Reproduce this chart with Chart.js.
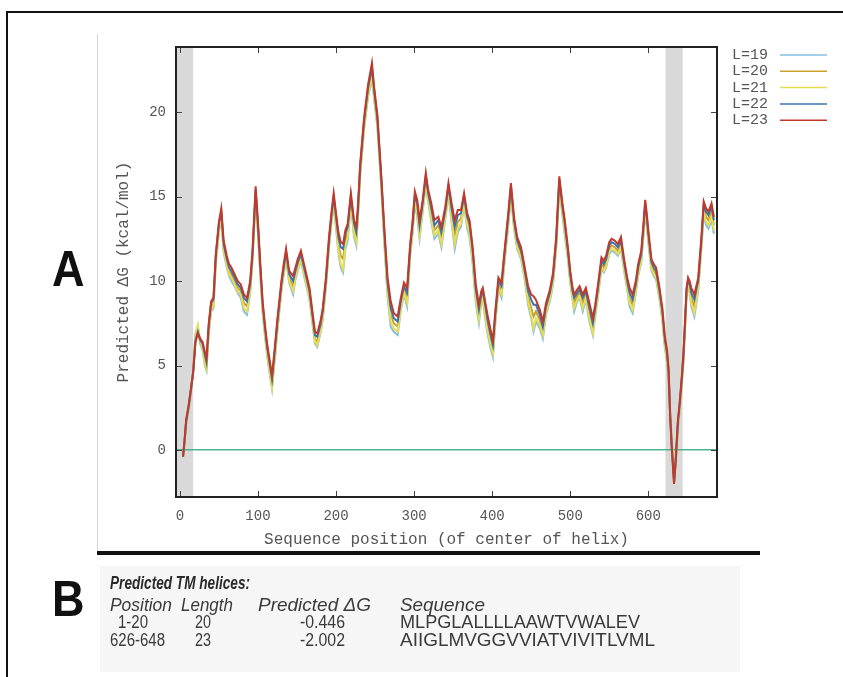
<!DOCTYPE html>
<html>
<head>
<meta charset="utf-8">
<script src="https://cdn.jsdelivr.net/npm/chart.js@4.4.0/dist/chart.umd.min.js"></script>
<style>
  html, body { margin: 0; padding: 0; background: #fff; }
  #wrap { position: relative; width: 843px; height: 677px; overflow: hidden; }
  #plot { position: absolute; left: 0; top: 0; }
  .frame-l { position: absolute; left: 6px; top: 11px; width: 2px; height: 670px; background: #111; }
  .frame-t { position: absolute; left: 6px; top: 11px; width: 840px; height: 2px; background: #111; }
  .sep-v { position: absolute; left: 97px; top: 34px; width: 1px; height: 518px; background: #d8d8d8; }
  .sep-h { position: absolute; left: 97px; top: 551px; width: 663px; height: 4px; background: #111; }
  .tbl { position: absolute; left: 100px; top: 566px; width: 640px; height: 106px; background: #f6f6f6; }
  .panel { position: absolute; font-family: 'Liberation Sans', Arial, sans-serif; font-weight: bold;
           font-size: 50px; line-height: 1; color: #111; transform-origin: left top; transform: scaleX(0.9); }
  .t { position: absolute; font-family: 'Liberation Sans', Arial, sans-serif; font-size: 18px; line-height: 18px;
       color: #3a3a3a; white-space: nowrap; transform-origin: left center; }
  .i { font-style: italic; }
  .h { font-style: italic; font-weight: bold; color: #2a2a2a; }
</style>
</head>
<body>
<div id="wrap">
  <div class="frame-l"></div>
  <div class="frame-t"></div>
  <div class="sep-v"></div>
  <div class="tbl"></div>
  <canvas id="plot" width="843" height="677"></canvas>
  <div class="sep-h"></div>
  <div class="panel" style="left:52px; top:244px;">A</div>
  <div class="panel" style="left:52px; top:574px;">B</div>

  <div class="t h" style="left:110px; top:574px;" data-w="140">Predicted TM helices:</div>
  <div class="t i" style="left:110px; top:596px;" data-w="62">Position</div>
  <div class="t i" style="left:181px; top:596px;" data-w="52">Length</div>
  <div class="t i" style="left:258px; top:596px;" data-w="113">Predicted ΔG</div>
  <div class="t i" style="left:400px; top:596px;" data-w="85">Sequence</div>
  <div class="t" style="left:118px; top:613px;" data-w="30">1-20</div>
  <div class="t" style="left:195px; top:613px;" data-w="16">20</div>
  <div class="t" style="left:300px; top:613px;" data-w="45">-0.446</div>
  <div class="t" style="left:400px; top:613px;" data-w="240">MLPGLALLLLAAWTVWALEV</div>
  <div class="t" style="left:110px; top:631px;" data-w="55">626-648</div>
  <div class="t" style="left:195px; top:631px;" data-w="16">23</div>
  <div class="t" style="left:300px; top:631px;" data-w="45">-2.002</div>
  <div class="t" style="left:400px; top:631px;" data-w="255">AIIGLMVGGVVIATVIVITLVML</div>
</div>
<script>
// sequence position of helix centre
const positions = [
  4,6,8,11,14,17,20,23,26,29, 32,34,37,40,43,46,50,53,56,60,
  63,66,70,74,78,82,86,90,93,97, 100,103,106,109,112,115,118,121,125,130,
  133,136,140,145,148,151,155,159,163,166, 170,173,176,180,183,187,191,194,197,200,
  203,206,209,212,215,219,223,226,228,231, 236,241,246,249,253,258,262,266,270,274,
  279,283,287,291,295,298,301,304,307,311, 315,318,322,326,331,335,340,344,348,352,
  356,360,364,368,371,375,379,383,386,388, 391,394,398,401,404,408,412,415,418,421,
  424,428,432,437,441,446,450,453,456,461, 465,469,474,478,482,486,490,493,497,500,
  503,505,509,512,516,520,524,529,532,535, 540,543,546,550,553,557,561,565,569,573,
  576,580,584,587,591,594,596,598,600,604, 607,610,614,618,621,624,626,628,630,633,
  635,638,640,643,645,647,649,651,653,655, 659,662,664,668,671,674,677,681,684
];

// predicted dG (kcal/mol) for each window length
const dgL19 = [
  -0.4,0.4,1.5,2.3,3.3,4.8,6.9,7.3,6.3,5.9, 5.0,4.7,6.9,8.2,8.4,11.0,12.9,13.7,11.7,10.8,
  10.3,10.0,9.7,9.3,9.0,8.2,8.0,9.3,11.2,14.9, 12.8,10.3,8.1,6.7,5.5,4.5,3.6,5.1,7.1,9.4,
  10.4,11.3,9.9,9.2,10.1,10.6,11.2,10.3,9.5,8.9, 7.4,6.3,6.1,6.9,7.7,9.6,12.0,13.4,14.6,13.1,
  11.7,10.8,10.5,11.9,12.4,14.6,12.6,12.1,13.7,16.3, 19.0,20.9,21.9,20.7,19.1,15.5,12.1,9.1,7.3,7.0,
  6.8,8.3,9.2,8.5,11.5,12.8,14.6,13.8,12.5,14.1, 15.7,14.7,13.5,12.5,12.8,12.0,13.7,15.1,13.5,11.9,
  12.9,13.2,14.5,13.1,12.6,11.0,8.7,7.5,8.7,8.9, 7.8,6.9,6.0,5.5,7.5,9.5,9.0,10.7,12.1,13.5,
  15.1,13.1,11.9,11.3,10.3,8.6,7.8,7.0,7.6,7.2, 6.6,8.0,8.8,9.8,11.9,15.5,13.9,12.7,11.3,9.9,
  8.9,8.2,8.8,9.0,8.2,8.9,7.7,6.8,7.9,8.9, 10.7,10.5,10.8,11.6,11.8,11.7,11.5,11.9,10.6,9.5,
  8.5,8.1,9.3,10.3,11.1,12.8,14.1,13.3,12.3,10.6, 10.3,10.1,9.0,7.7,6.1,5.2,4.2,2.3,0.6,-1.5,
  -1.0,1.3,2.2,3.9,5.2,7.1,9.1,9.7,9.3,8.5, 7.9,8.8,9.5,11.9,14.0,13.3,13.1,13.6,12.8
];
const dgL20 = [
  -0.4,0.5,1.6,2.5,3.5,4.7,6.6,7.1,6.4,6.1, 5.4,5.0,7.2,8.5,8.7,11.3,13.2,13.9,12.0,11.1,
  10.6,10.4,10.0,9.6,9.4,8.7,8.5,9.6,11.4,15.2, 13.1,10.6,8.4,7.0,5.8,4.8,3.9,5.4,7.4,9.6,
  10.7,11.6,10.2,9.7,10.4,10.9,11.4,10.6,9.8,9.2, 7.7,6.6,6.4,7.2,8.0,9.8,12.2,13.6,14.8,13.5,
  12.2,11.5,11.3,12.4,12.9,14.8,13.1,12.6,14.0,16.6, 19.3,21.2,22.3,21.0,19.4,15.8,12.5,9.6,8.0,7.5,
  7.3,8.6,9.5,9.0,11.8,13.1,14.9,14.3,13.0,14.4, 16.0,15.0,14.0,13.0,13.3,12.6,14.0,15.4,14.0,12.7,
  13.5,13.7,14.8,13.6,13.1,11.5,9.2,8.0,9.0,9.2, 8.3,7.4,6.5,5.9,7.8,9.8,9.4,11.0,12.4,13.8,
  15.4,13.4,12.2,11.6,10.6,9.1,8.4,7.9,8.2,7.7, 7.0,8.3,9.1,10.1,12.2,15.8,14.2,13.1,11.6,10.2,
  9.2,8.7,9.1,9.3,8.7,9.2,8.2,7.2,8.2,9.2, 11.0,10.8,11.1,11.9,12.1,12.0,11.8,12.2,10.9,9.8,
  9.0,8.6,9.6,10.6,11.4,13.1,14.4,13.6,12.6,10.9, 10.6,10.4,9.3,8.0,6.4,5.5,4.4,2.1,0.4,-1.8,
  -0.8,1.5,2.4,4.1,5.4,7.3,9.3,9.9,9.6,9.0, 8.5,9.3,9.8,12.2,14.3,13.8,13.6,14.1,13.3
];
const dgL21 = [
  -0.4,0.5,1.6,2.4,3.4,4.8,6.8,7.4,6.5,6.0, 5.1,4.8,7.0,8.3,8.5,11.1,13.0,13.8,11.8,10.9,
  10.4,10.2,9.8,9.4,9.2,8.4,8.2,9.4,11.3,15.0, 12.9,10.4,8.2,6.8,5.6,4.6,3.7,5.2,7.2,9.5,
  10.5,11.4,10.0,9.4,10.2,10.7,11.3,10.4,9.6,9.0, 7.5,6.4,6.2,7.0,7.8,9.7,12.1,13.5,14.7,13.3,
  11.9,11.0,10.7,12.1,12.6,14.7,12.8,12.3,13.8,16.4, 19.1,21.0,22.1,20.8,19.2,15.6,12.3,9.3,7.6,7.2,
  7.0,8.4,9.3,8.7,11.6,12.9,14.7,14.0,12.7,14.2, 15.8,14.8,13.7,12.7,13.0,12.2,13.8,15.2,13.7,12.2,
  13.1,13.4,14.6,13.3,12.8,11.2,8.9,7.7,8.8,9.0, 8.0,7.1,6.2,5.7,7.6,9.6,9.2,10.8,12.2,13.6,
  15.2,13.2,12.0,11.4,10.4,8.8,8.0,7.2,7.8,7.4, 6.8,8.1,8.9,9.9,12.0,15.6,14.0,12.9,11.4,10.0,
  9.0,8.4,8.9,9.1,8.4,9.0,7.9,6.9,8.0,9.0, 10.8,10.6,10.9,11.7,11.9,11.8,11.6,12.0,10.7,9.6,
  8.7,8.3,9.4,10.4,11.2,12.9,14.2,13.4,12.4,10.7, 10.4,10.2,9.1,7.8,6.2,5.3,4.3,2.2,0.5,-1.6,
  -0.9,1.4,2.3,4.0,5.3,7.2,9.2,9.8,9.4,8.7, 8.1,9.0,9.6,12.0,14.1,13.5,13.3,13.8,13.0
];
const dgL22 = [
  -0.4,0.6,1.7,2.5,3.5,4.6,6.5,7.0,6.5,6.3, 5.6,5.2,7.4,8.7,8.9,11.5,13.4,14.1,12.2,11.3,
  10.8,10.6,10.2,9.8,9.6,9.0,8.8,9.8,11.6,15.4, 13.3,10.8,8.6,7.2,6.0,5.1,4.2,5.6,7.6,9.8,
  10.8,11.7,10.4,10.0,10.6,11.1,11.6,10.8,10.0,9.4, 7.9,6.8,6.7,7.4,8.2,10.0,12.4,13.8,15.0,13.8,
  12.6,12.0,11.9,12.8,13.2,15.0,13.4,12.9,14.2,16.8, 19.5,21.4,22.6,21.2,19.6,16.0,12.8,9.9,8.4,7.8,
  7.6,8.8,9.7,9.3,12.0,13.3,15.1,14.6,13.3,14.6, 16.2,15.2,14.3,13.3,13.6,12.9,14.2,15.6,14.3,13.2,
  13.9,14.0,15.0,13.8,13.4,11.8,9.5,8.3,9.2,9.4, 8.6,7.7,6.8,6.2,8.0,10.0,9.7,11.2,12.6,14.0,
  15.6,13.6,12.4,11.8,10.8,9.4,8.9,8.6,8.6,8.0, 7.3,8.5,9.3,10.3,12.4,16.0,14.4,13.4,11.8,10.4,
  9.4,9.0,9.3,9.5,9.0,9.4,8.5,7.5,8.4,9.4, 11.2,11.0,11.3,12.1,12.3,12.2,12.0,12.4,11.1,10.0,
  9.3,8.9,9.8,10.8,11.6,13.3,14.6,13.8,12.8,11.1, 10.8,10.6,9.5,8.2,6.6,5.7,4.6,2.0,0.2,-1.9,
  -0.7,1.7,2.6,4.3,5.6,7.5,9.5,10.1,9.8,9.3, 8.9,9.6,10.0,12.4,14.5,14.1,13.9,14.4,13.6
];
const dgL23 = [
  -0.4,0.6,1.8,2.6,3.6,4.6,6.4,6.9,6.6,6.4, 5.8,5.4,7.5,8.8,9.0,11.6,13.5,14.3,12.4,11.5,
  11.0,10.8,10.4,10.0,9.8,9.2,9.0,10.0,11.8,15.6, 13.5,11.0,8.8,7.4,6.2,5.3,4.4,5.8,7.8,10.0,
  11.0,11.9,10.6,10.3,10.8,11.3,11.8,11.0,10.2,9.6, 8.1,7.0,6.9,7.6,8.4,10.2,12.6,14.0,15.2,14.0,
  12.9,12.3,12.2,13.0,13.4,15.2,13.6,13.2,14.4,17.0, 19.7,21.6,22.9,21.4,19.8,16.2,13.0,10.2,8.8,8.1,
  7.9,9.0,9.9,9.6,12.2,13.5,15.3,14.8,13.6,14.8, 16.4,15.4,14.6,13.6,13.8,13.2,14.4,15.8,14.6,13.6,
  14.2,14.2,15.2,14.0,13.6,12.0,9.8,8.6,9.4,9.6, 8.8,8.0,7.1,6.5,8.2,10.2,9.9,11.4,12.8,14.2,
  15.8,13.8,12.6,12.0,11.0,9.7,9.2,9.1,8.9,8.3, 7.6,8.7,9.5,10.5,12.6,16.2,14.6,13.6,12.0,10.6,
  9.6,9.2,9.5,9.7,9.2,9.6,8.8,7.8,8.6,9.6, 11.4,11.2,11.5,12.3,12.5,12.4,12.2,12.6,11.3,10.2,
  9.6,9.2,10.0,11.0,11.8,13.5,14.8,14.0,13.0,11.3, 11.0,10.8,9.7,8.4,6.8,5.9,4.8,2.0,0.2,-2.0,
  -0.6,1.8,2.7,4.4,5.7,7.6,9.6,10.2,10.0,9.6, 9.2,9.8,10.2,12.6,14.7,14.3,14.1,14.6,13.8
];

const seriesLabels = ['L=19', 'L=20', 'L=21', 'L=22', 'L=23'];
const xTicks = [0, 100, 200, 300, 400, 500, 600];
const yTicks = [0, 5, 10, 15, 20];
// shaded TM helix bands, as drawn on the plot
const bandStart = [-5, 622];
const bandEnd = [17, 644];

const seriesColors = ['#86bfe0', '#c9a22c', '#e9dc55', '#3b74b0', '#c0392b'];
const seriesValues = [dgL19, dgL20, dgL21, dgL22, dgL23];

const gnuplotFrame = {
  id: 'gnuplotFrame',
  beforeDraw(chart) {
    const { ctx, chartArea: a, scales: { x } } = chart;
    ctx.save();
    ctx.fillStyle = '#d9d9d9';
    bandStart.forEach((s, i) => {
      const x0 = Math.max(a.left, x.getPixelForValue(s));
      const x1 = Math.min(a.right, x.getPixelForValue(bandEnd[i]));
      ctx.fillRect(x0, a.top, x1 - x0, a.bottom - a.top);
    });
    ctx.restore();
  },
  afterDatasetsDraw(chart) {
    const { ctx, chartArea: a, scales: { x, y } } = chart;
    ctx.save();
    ctx.strokeStyle = '#444';
    ctx.lineWidth = 1;
    ctx.beginPath();
    xTicks.forEach(v => {
      const px = Math.round(x.getPixelForValue(v)) + 0.5;
      ctx.moveTo(px, a.bottom); ctx.lineTo(px, a.bottom - 6);
      ctx.moveTo(px, a.top); ctx.lineTo(px, a.top + 6);
    });
    yTicks.forEach(v => {
      const py = Math.round(y.getPixelForValue(v)) + 0.5;
      ctx.moveTo(a.left, py); ctx.lineTo(a.left + 6, py);
      ctx.moveTo(a.right, py); ctx.lineTo(a.right - 6, py);
    });
    ctx.stroke();
    ctx.strokeStyle = '#222';
    ctx.lineWidth = 2;
    ctx.strokeRect(a.left, a.top, a.right - a.left, a.bottom - a.top);
    ctx.restore();
  },
  afterDraw(chart) {
    const { ctx, chartArea: a } = chart;
    ctx.save();
    ctx.fillStyle = '#555';
    ctx.font = '16px "Liberation Mono", monospace';
    ctx.textAlign = 'center';
    ctx.textBaseline = 'middle';
    ctx.fillText('Sequence position (of center of helix)', (a.left + a.right) / 2, 540);
    ctx.translate(124, (a.top + a.bottom) / 2);
    ctx.rotate(-Math.PI / 2);
    ctx.fillText('Predicted ΔG (kcal/mol)', 0, 0);
    ctx.restore();

    // key
    ctx.save();
    ctx.font = '15px "Liberation Mono", monospace';
    ctx.textAlign = 'left';
    ctx.textBaseline = 'middle';
    chart.data.datasets.forEach((ds, i) => {
      const ly = 55 + i * 16.3;
      ctx.fillStyle = '#555';
      ctx.fillText(ds.label, 732, ly);
      ctx.strokeStyle = ds.borderColor;
      ctx.lineWidth = 1.5;
      ctx.beginPath();
      ctx.moveTo(780, ly);
      ctx.lineTo(827, ly);
      ctx.stroke();
    });
    ctx.restore();
  }
};

Chart.defaults.font.family = '"Liberation Mono", monospace';
Chart.defaults.color = '#555';

new Chart(document.getElementById('plot'), {
  type: 'line',
  data: {
    datasets: seriesLabels.map((label, i) => ({
      label: label,
      data: positions.map((p, k) => ({ x: p, y: seriesValues[i][k] })),
      borderColor: seriesColors[i],
      backgroundColor: seriesColors[i],
      borderWidth: 2,
      pointRadius: 0,
      tension: 0,
      fill: false,
      order: seriesLabels.length - 1 - i
    }))
  },
  options: {
    responsive: false,
    animation: false,
    devicePixelRatio: 1,
    layout: { padding: { left: 0, top: 47, right: 126, bottom: 0 } },
    plugins: { legend: { display: false }, tooltip: { enabled: false } },
    scales: {
      x: {
        type: 'linear',
        min: -5,
        max: 688,
        afterFit(s) { s.height = 180; },
        afterBuildTicks(s) { s.ticks = xTicks.map(v => ({ value: v })); },
        ticks: { font: { size: 14 }, color: '#555', padding: 3, maxRotation: 0, autoSkip: false },
        grid: { display: false },
        border: { display: false }
      },
      y: {
        min: -2.78,
        max: 23.85,
        afterFit(s) { s.width = 176; },
        afterBuildTicks(s) { s.ticks = yTicks.map(v => ({ value: v })); },
        ticks: { font: { size: 14 }, color: '#555', padding: 10 },
        grid: {
          drawTicks: false,
          lineWidth: 1.5,
          color: c => (c.tick && c.tick.value === 0 ? '#4fb392' : 'rgba(0,0,0,0)')
        },
        border: { display: false }
      }
    }
  },
  plugins: [gnuplotFrame]
});

document.querySelectorAll('.t').forEach(el => {
  const w = +el.dataset.w;
  el.style.transform = 'scaleX(' + (w / el.getBoundingClientRect().width) + ')';
});
</script>
</body>
</html>
